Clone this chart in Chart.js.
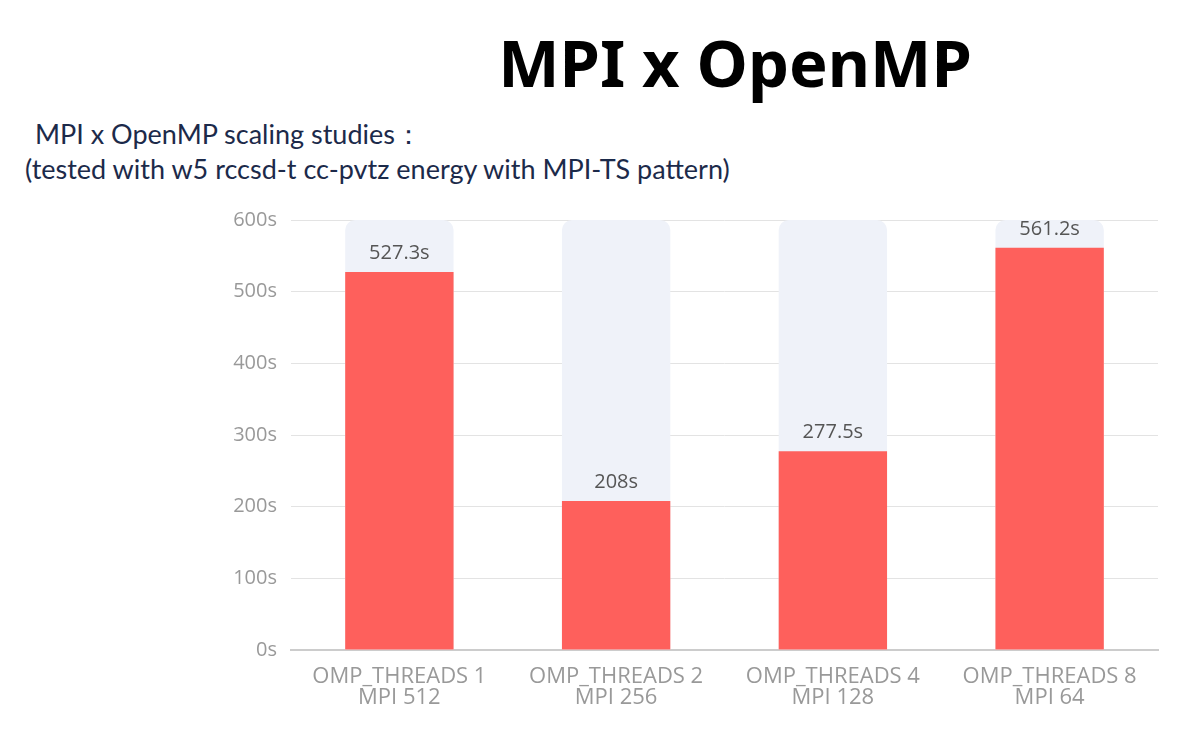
<!DOCTYPE html>
<html>
<head>
<meta charset="utf-8">
<script src="https://cdn.jsdelivr.net/npm/chart.js@4.4.1/dist/chart.umd.min.js"></script>
<style>
  body { margin: 0; background: #fff; width: 1200px; height: 730px; overflow: hidden; position: relative; }
  #title { position: absolute; left: 0; width: 1470px; top: 22px; text-align: center; font-family: "Noto Sans", sans-serif; font-weight: 700; font-size: 65px; color: #000; line-height: 80px; }
  .sub { position: absolute; font-family: Lato, sans-serif; font-size: 27px; color: #1c2a4a; white-space: nowrap; }
  #wrap { position: absolute; left: 0; top: 194px; width: 1200px; height: 536px; }
</style>
</head>
<body>
<div id="title">MPI x OpenMP</div>
<div class="sub" style="left:35px; top:117px;">MPI x OpenMP scaling studies：</div>
<div class="sub" style="left:25px; top:152px;">(tested with w5 rccsd-t cc-pvtz energy with MPI-TS pattern)</div>
<div id="wrap"><canvas id="chart"></canvas></div>
<script>
const categories = [
    ['OMP_THREADS 1', 'MPI 512'],
    ['OMP_THREADS 2', 'MPI 256'],
    ['OMP_THREADS 4', 'MPI 128'],
    ['OMP_THREADS 8', 'MPI 64']
];
const times = [527.3, 208, 277.5, 561.2];
const backdrop = [600, 600, 600, 600];
const yTicks = [0, 100, 200, 300, 400, 500, 600];

// draws the "527.3s" style labels over the red bars
const valueLabels = {
    id: 'valueLabels',
    afterDatasetsDraw(chart) {
        const ctx = chart.ctx;
        const meta = chart.getDatasetMeta(0);
        ctx.save();
        ctx.font = '20px "Open Sans", sans-serif';
        ctx.fillStyle = '#555';
        ctx.textAlign = 'center';
        ctx.textBaseline = 'bottom';
        meta.data.forEach((bar, i) => {
            ctx.fillText(times[i] + 's', bar.x, bar.y - 9);
        });
        ctx.restore();
    }
};

const ctx = document.getElementById('chart').getContext('2d');

new Chart(ctx, {
    type: 'bar',
    data: {
        labels: categories,
        datasets: [{
            label: 'time',
            data: times,
            backgroundColor: '#fe605c',
            barPercentage: 0.5,
            categoryPercentage: 1,
            grouped: false,
            order: 1
        }, {
            label: 'max',
            data: backdrop,
            backgroundColor: '#eff2f9',
            borderRadius: { topLeft: 10, topRight: 10 },
            borderSkipped: 'bottom',
            barPercentage: 0.5,
            categoryPercentage: 1,
            grouped: false,
            order: 2
        }]
    },
    options: {
        responsive: true,
        maintainAspectRatio: false,
        animation: false,
        layout: { padding: { top: 14, right: 42, left: 0, bottom: 0 } },
        plugins: {
            legend: { display: false },
            tooltip: { enabled: false }
        },
        scales: {
            x: {
                grid: { display: false },
                border: { color: '#cccccc', width: 2 },
                ticks: {
                    color: '#999',
                    padding: 8,
                    font: { family: '"Open Sans", sans-serif', size: 22, lineHeight: 0.96 }
                },
                afterFit(scale) { scale.height = 80; }
            },
            y: {
                min: 0,
                max: 600,
                afterBuildTicks(scale) { scale.ticks = yTicks.map(v => ({ value: v })); },
                grid: { color: '#e3e3e3', drawTicks: false },
                border: { display: false },
                ticks: {
                    color: '#999',
                    padding: 14,
                    font: { family: '"Open Sans", sans-serif', size: 20 },
                    callback: v => v + 's'
                },
                afterFit(scale) { scale.width = 291; }
            }
        }
    },
    plugins: [valueLabels]
});
</script>
</body>
</html>
